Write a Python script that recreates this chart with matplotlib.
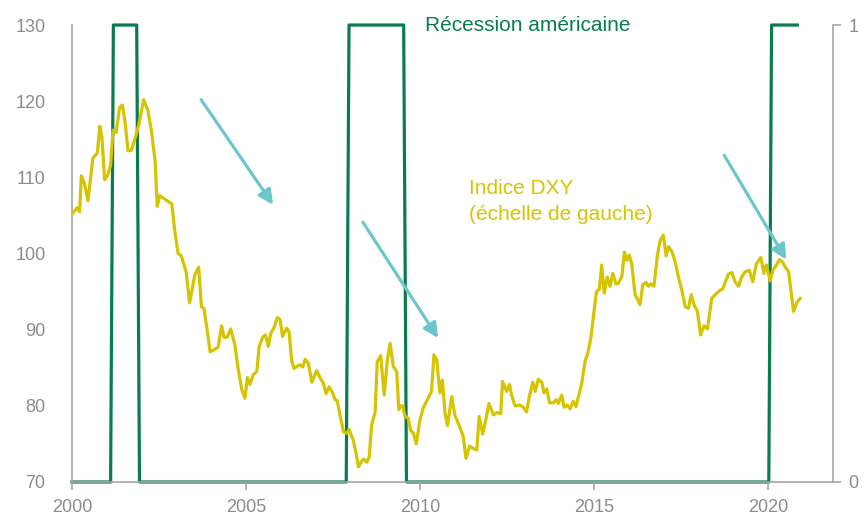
import matplotlib
matplotlib.use('Agg')
import matplotlib.pyplot as plt

plt.rcParams['font.family'] = ['Liberation Sans', 'DejaVu Sans']

# Indice DXY, dates en années décimales
dxy_t = [2000.00, 2000.15, 2000.22, 2000.27, 2000.36, 2000.46, 2000.60, 2000.73, 2000.80, 2000.86,
         2000.94, 2001.03, 2001.11, 2001.18, 2001.27, 2001.37, 2001.45, 2001.53, 2001.61, 2001.70,
         2001.80, 2001.92, 2002.06, 2002.18, 2002.28, 2002.39, 2002.45, 2002.52, 2002.71, 2002.87,
         2002.95, 2003.05, 2003.14, 2003.28, 2003.38, 2003.53, 2003.64, 2003.72, 2003.79, 2003.87,
         2003.97, 2004.06, 2004.20, 2004.30, 2004.37, 2004.46, 2004.56, 2004.68, 2004.78, 2004.88,
         2004.97, 2005.04, 2005.11, 2005.21, 2005.31, 2005.38, 2005.48, 2005.56, 2005.64, 2005.71,
         2005.80, 2005.90, 2005.98, 2006.05, 2006.17, 2006.24, 2006.31, 2006.38, 2006.47, 2006.55,
         2006.63, 2006.70, 2006.79, 2006.89, 2007.03, 2007.14, 2007.22, 2007.30, 2007.39, 2007.49,
         2007.56, 2007.62, 2007.70, 2007.80, 2007.89, 2007.96, 2008.08, 2008.16, 2008.23, 2008.32,
         2008.39, 2008.47, 2008.54, 2008.61, 2008.71, 2008.77, 2008.87, 2008.97, 2009.06, 2009.14,
         2009.23, 2009.33, 2009.39, 2009.44, 2009.50, 2009.57, 2009.66, 2009.73, 2009.81, 2009.89,
         2010.00, 2010.09, 2010.21, 2010.33, 2010.40, 2010.48, 2010.57, 2010.64, 2010.72, 2010.79,
         2010.91, 2011.00, 2011.15, 2011.24, 2011.32, 2011.42, 2011.53, 2011.63, 2011.70, 2011.80,
         2011.90, 2011.98, 2012.11, 2012.20, 2012.32, 2012.37, 2012.49, 2012.57, 2012.63, 2012.73,
         2012.87, 2012.97, 2013.06, 2013.14, 2013.24, 2013.31, 2013.40, 2013.50, 2013.56, 2013.64,
         2013.72, 2013.83, 2013.91, 2013.97, 2014.07, 2014.14, 2014.23, 2014.31, 2014.40, 2014.48,
         2014.55, 2014.64, 2014.74, 2014.83, 2014.91, 2014.98, 2015.07, 2015.15, 2015.22, 2015.29,
         2015.38, 2015.46, 2015.54, 2015.63, 2015.70, 2015.80, 2015.87, 2015.94, 2016.01, 2016.08,
         2016.18, 2016.32, 2016.40, 2016.49, 2016.56, 2016.63, 2016.72, 2016.82, 2016.90, 2016.99,
         2017.07, 2017.14, 2017.24, 2017.33, 2017.43, 2017.52, 2017.62, 2017.71, 2017.79, 2017.87,
         2017.97, 2018.06, 2018.16, 2018.26, 2018.38, 2018.48, 2018.60, 2018.70, 2018.86, 2018.96,
         2019.05, 2019.15, 2019.24, 2019.34, 2019.46, 2019.56, 2019.66, 2019.79, 2019.88, 2019.95,
         2020.06, 2020.14, 2020.24, 2020.33, 2020.41, 2020.51, 2020.59, 2020.66, 2020.73, 2020.83,
         2020.92]
dxy_v = [105.2, 106.0, 105.5, 110.2, 109.2, 106.9, 112.5, 113.2, 116.7, 115.3,
         109.7, 110.3, 111.6, 116.2, 115.9, 119.2, 119.5, 117.1, 113.5, 113.5,
         114.9, 116.9, 120.2, 118.8, 116.2, 112.1, 106.2, 107.6, 107.0, 106.5,
         103.1, 100.0, 99.7, 97.6, 93.5, 97.2, 98.2, 93.0, 92.8, 90.4,
         87.1, 87.3, 87.7, 90.5, 89.0, 89.0, 90.1, 88.0, 84.7, 82.1,
         81.0, 83.7, 82.8, 84.1, 84.5, 87.8, 89.0, 89.3, 87.8, 89.5,
         90.2, 91.6, 91.3, 89.1, 90.2, 89.7, 86.0, 84.9, 85.2, 85.4,
         85.1, 86.1, 85.6, 83.1, 84.6, 83.6, 83.0, 81.6, 82.5, 81.7,
         80.8, 80.7, 78.8, 76.6, 76.4, 76.9, 75.5, 73.8, 72.0, 72.7,
         73.0, 72.6, 73.3, 77.5, 79.2, 85.8, 86.6, 81.4, 86.0, 88.2,
         85.2, 84.5, 79.5, 80.0, 80.0, 78.6, 78.4, 76.8, 76.4, 75.0,
         78.2, 79.7, 80.8, 81.9, 86.7, 86.0, 81.7, 83.4, 79.0, 77.4,
         81.2, 78.8, 77.1, 76.0, 73.1, 74.7, 74.4, 74.2, 78.6, 76.3,
         78.4, 80.3, 78.8, 79.1, 79.0, 83.2, 81.9, 82.8, 81.4, 80.0,
         80.1, 79.8, 79.2, 81.2, 83.1, 81.9, 83.5, 83.1, 81.7, 82.2,
         80.4, 80.4, 80.8, 80.3, 81.4, 79.8, 80.1, 79.6, 80.6, 79.9,
         81.2, 82.8, 85.8, 87.1, 89.0, 91.7, 95.0, 95.3, 98.5, 94.8,
         96.9, 95.7, 97.4, 96.0, 96.1, 97.0, 100.2, 99.1, 99.8, 98.7,
         94.6, 93.3, 95.9, 96.2, 95.7, 96.0, 95.7, 99.8, 101.7, 102.4,
         99.7, 100.9, 100.2, 98.9, 96.8, 95.2, 93.0, 92.8, 94.6, 93.3,
         92.4, 89.3, 90.5, 90.1, 94.1, 94.6, 95.1, 95.4, 97.3, 97.5,
         96.3, 95.7, 96.9, 97.6, 97.8, 96.3, 98.6, 99.5, 97.4, 98.5,
         96.4, 97.8, 98.5, 99.2, 98.9, 98.1, 97.6, 95.0, 92.4, 93.6,
         94.1]

# Récessions américaines (0/1, échelle de droite)
rec_t = [2000.00, 2001.11, 2001.19, 2001.86, 2001.94, 2007.88, 2007.96,
         2009.53, 2009.61, 2020.02, 2020.10, 2020.84]
rec_v = [0, 0, 1, 1, 0, 0, 1, 1, 0, 0, 1, 1]

# flèches (départ, arrivée) en coordonnées du graphique
arrows = [((2003.71, 120.2), (2005.78, 106.4)),
          ((2008.36, 104.1), (2010.52, 88.9)),
          ((2018.74, 112.9), (2020.52, 99.2))]

GRAY = '#8c8c8c'
SPINE = '#a6a6a6'
YELLOW = '#d6c400'
GREEN = '#0a7d4f'
TEAL = '#6cc6cc'

fig = plt.figure(figsize=(8.67, 5.19), dpi=100)
ax = fig.add_axes([0.083, 0.0713, 0.878, 0.8805])
ax2 = ax.twinx()

ax.plot(dxy_t, dxy_v, color=YELLOW, lw=2.3, zorder=3)
ax2.plot(rec_t, rec_v, color=GREEN, lw=2.3, clip_on=False, zorder=2)

ax.set_xlim(2000, 2021.87)
ax.set_ylim(70, 130)
ax2.set_ylim(0, 1)
ax.set_zorder(ax2.get_zorder() + 1)
ax.patch.set_visible(False)

ax.set_xticks([2000, 2005, 2010, 2015, 2020])
ax.set_yticks([70, 80, 90, 100, 110, 120, 130])
ax2.set_yticks([0, 1])

for a in (ax, ax2):
    for s in a.spines.values():
        s.set_color(SPINE)
        s.set_linewidth(1.2)
    a.spines['top'].set_visible(False)
ax.spines['right'].set_visible(False)
ax2.spines['left'].set_visible(False)
ax2.spines['bottom'].set_visible(False)

ax.tick_params(axis='x', colors=SPINE, labelcolor=GRAY, labelsize=13,
               length=6, width=1.2, pad=6)
ax.tick_params(axis='y', labelcolor=GRAY, labelsize=13, length=0, pad=19)
ax2.tick_params(axis='y', colors=SPINE, labelcolor=GRAY, labelsize=13,
                length=6, width=1.2, pad=5)

for (x0, y0), (x1, y1) in arrows:
    ax.annotate('', xy=(x1, y1), xytext=(x0, y0),
                arrowprops=dict(arrowstyle='-|>', color=TEAL, lw=2.3,
                                mutation_scale=22, shrinkA=0, shrinkB=0),
                zorder=4)

ax.text(2010.15, 130.0, 'Récession américaine', color=GREEN, fontsize=15,
        ha='left', va='center')
ax.text(2011.42, 106.8, 'Indice DXY\n(échelle de gauche)', color=YELLOW,
        fontsize=15, ha='left', va='center', linespacing=1.45)

plt.savefig('out.png', dpi=100)
